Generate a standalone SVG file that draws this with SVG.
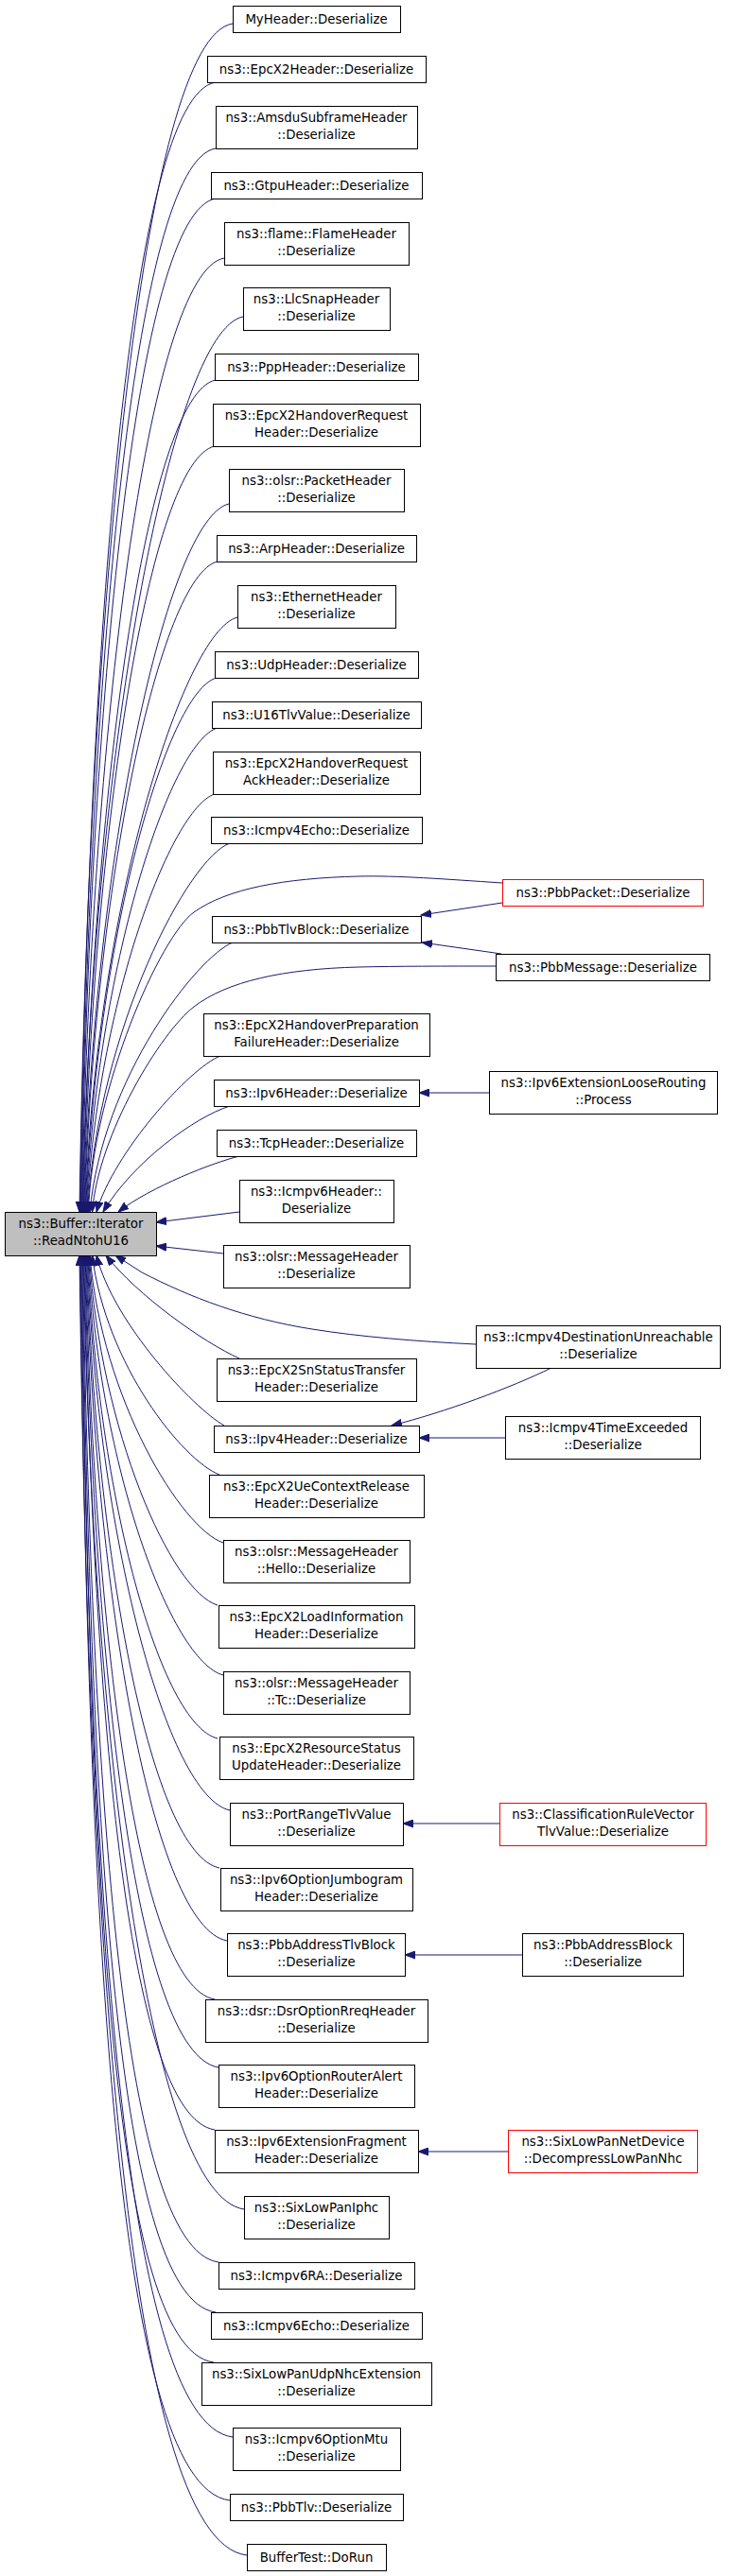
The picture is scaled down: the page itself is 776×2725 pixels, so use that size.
<svg xmlns="http://www.w3.org/2000/svg" width="776" height="2725" viewBox="0 0 776 2725">
<style>
.n rect{fill:#ffffff;stroke:#000000;stroke-width:1}
.n.red rect{stroke:#ff0000}
.n.main rect{fill:#bfbfbf}
.n text{font-family:"DejaVu Sans","Liberation Sans",sans-serif;font-size:13.33px;text-anchor:middle;fill:#000000}
.e path{fill:none;stroke:#191970;stroke-width:1;marker-end:url(#ah)}
</style>
<defs>
<marker id="ah" markerWidth="12" markerHeight="9" refX="11" refY="4.5" orient="auto" markerUnits="userSpaceOnUse">
<path d="M0,0.5 L11,4.5 L0,8.5 z" fill="#191970" stroke="#191970" stroke-width="1"/>
</marker>
</defs>
<rect x="0" y="0" width="776" height="2725" fill="#ffffff"/>
<g id="edges" class="e">
<path d="M246,25 C150.6,40 93.2,653.5 84,1282"/>
<path d="M228,87 C136.3,102 93.9,684.5 84.6,1282"/>
<path d="M228,157 C140.5,172 94.5,719.5 85.2,1282"/>
<path d="M228,210 C143.7,225 95.2,746 85.8,1282"/>
<path d="M237,273 C156.5,288 95.9,777.5 86.4,1282"/>
<path d="M257,335 C180.2,350 96.6,808.5 87,1282"/>
<path d="M228,402 C155.2,417 97.3,842 87.6,1282"/>
<path d="M227,472 C158.4,487 98.1,877 88.2,1282"/>
<path d="M242,533 C177.1,548 98.8,907.5 88.8,1282"/>
<path d="M230,594 C168.7,609 99.6,938 89.4,1282"/>
<path d="M251,653 C193.3,668 100.4,967.5 90,1282"/>
<path d="M229,717 C175.1,732 101.3,999.5 90.6,1282"/>
<path d="M230,770 C179.3,785 102.1,1026 91.2,1282"/>
<path d="M227,840 C180.5,855 103.2,1061 91.8,1282"/>
<path d="M243,892 C199.6,907 104.3,1087 92.4,1282"/>
<path d="M531,934 C470,930 420,926 379,927 C300,929 240,940 205,965 C170,990 98,1150 93.5,1282"/>
<path d="M246,997 C208.9,1012 108.3,1139.5 95,1282"/>
<path d="M524,1022 C470,1022 420,1022 379,1023 C300,1025 240,1038 205,1065 C170,1092 104,1200 97.5,1282"/>
<path d="M233,1117 C200,1130 120,1220 102,1282"/>
<path d="M243,1170 C205,1182 140,1230 109,1282"/>
<path d="M253,1223 C225,1230 160,1255 125,1282"/>
<path d="M253,1282 L165,1293"/>
<path d="M236,1326 L165,1318"/>
<path d="M503,1422 C440,1419 380,1414 330,1406 C260,1395 200,1372 150,1346 L122,1328"/>
<path d="M253,1437 C215,1420 145,1370 112,1328"/>
<path d="M237,1508 C205,1490 120,1400 102,1328"/>
<path d="M232,1560 C193.4,1545 112,1444 97.5,1328"/>
<path d="M236,1632 C191.7,1617 107.9,1480 95,1328"/>
<path d="M230,1698 C180.4,1683 106.4,1513 94.3,1328"/>
<path d="M236,1772 C180.5,1757 105,1550 93.6,1328"/>
<path d="M230,1839 C169.1,1824 103.8,1583.5 92.9,1328"/>
<path d="M243,1915 C176,1900 102.8,1621.5 92.2,1328"/>
<path d="M232,1976 C160.2,1961 101.8,1652 91.5,1328"/>
<path d="M240,2053 C162,2038 100.9,1690.5 90.8,1328"/>
<path d="M227,2115 C144,2100 100,1721.5 90.1,1328"/>
<path d="M231,2187 C142.3,2172 99.2,1757.5 89.4,1328"/>
<path d="M227,2253 C133,2238 98.3,1790.5 88.7,1328"/>
<path d="M258,2337 C157.3,2322 97.5,1832.5 88,1328"/>
<path d="M231,2393 C125.8,2378 96.7,1860.5 87.3,1328"/>
<path d="M228,2446 C118.6,2431 95.9,1887 86.6,1328"/>
<path d="M226,2499 C112.3,2484 95.2,1913.5 85.9,1328"/>
<path d="M246,2578 C126,2563 94.4,1953 85.2,1328"/>
<path d="M243,2645 C117.6,2630 93.6,1986.5 84.5,1328"/>
<path d="M261,2703 C131,2688 93.1,2015.5 84,1328"/>
<path d="M531,955 L445,968"/>
<path d="M530,1009 L446,997"/>
<path d="M517,1156 L443,1156"/>
<path d="M583,1447 C540,1468 470,1494 414,1508"/>
<path d="M534,1521 L443,1521"/>
<path d="M528,1929 L426,1929"/>
<path d="M552,2068 L428,2068"/>
<path d="M537,2276 L442,2276"/>
</g>
<g id="main" class="n main"><rect x="5.5" y="1282.5" width="160" height="46"/><text x="85.5" y="1299">ns3::Buffer::Iterator</text><text x="85.5" y="1317">::ReadNtohU16</text></g>
<g id="n1" class="n"><rect x="246.5" y="6.5" width="177" height="28"/><text x="334.5" y="25">MyHeader::Deserialize</text></g>
<g id="n2" class="n"><rect x="219.5" y="59.5" width="231" height="28"/><text x="334.5" y="78">ns3::EpcX2Header::Deserialize</text></g>
<g id="n3" class="n"><rect x="228.5" y="112.5" width="213" height="45"/><text x="334.5" y="129">ns3::AmsduSubframeHeader</text><text x="334.5" y="147">::Deserialize</text></g>
<g id="n4" class="n"><rect x="223.5" y="182.5" width="223" height="28"/><text x="334.5" y="201">ns3::GtpuHeader::Deserialize</text></g>
<g id="n5" class="n"><rect x="237.5" y="235.5" width="195" height="45"/><text x="334.5" y="252">ns3::flame::FlameHeader</text><text x="334.5" y="270">::Deserialize</text></g>
<g id="n6" class="n"><rect x="257.5" y="304.5" width="155" height="45"/><text x="334.5" y="321">ns3::LlcSnapHeader</text><text x="334.5" y="339">::Deserialize</text></g>
<g id="n7" class="n"><rect x="227.5" y="374.5" width="215" height="28"/><text x="334.5" y="393">ns3::PppHeader::Deserialize</text></g>
<g id="n8" class="n"><rect x="225.5" y="427.5" width="219" height="45"/><text x="334.5" y="444">ns3::EpcX2HandoverRequest</text><text x="334.5" y="462">Header::Deserialize</text></g>
<g id="n9" class="n"><rect x="242.5" y="496.5" width="185" height="45"/><text x="334.5" y="513">ns3::olsr::PacketHeader</text><text x="334.5" y="531">::Deserialize</text></g>
<g id="n10" class="n"><rect x="229.5" y="566.5" width="211" height="28"/><text x="334.5" y="585">ns3::ArpHeader::Deserialize</text></g>
<g id="n11" class="n"><rect x="251.5" y="619.5" width="167" height="45"/><text x="334.5" y="636">ns3::EthernetHeader</text><text x="334.5" y="654">::Deserialize</text></g>
<g id="n12" class="n"><rect x="227.5" y="689.5" width="215" height="28"/><text x="334.5" y="708">ns3::UdpHeader::Deserialize</text></g>
<g id="n13" class="n"><rect x="224.5" y="742.5" width="221" height="28"/><text x="334.5" y="761">ns3::U16TlvValue::Deserialize</text></g>
<g id="n14" class="n"><rect x="225.5" y="795.5" width="219" height="45"/><text x="334.5" y="812">ns3::EpcX2HandoverRequest</text><text x="334.5" y="830">AckHeader::Deserialize</text></g>
<g id="n15" class="n"><rect x="223.5" y="864.5" width="223" height="28"/><text x="334.5" y="883">ns3::Icmpv4Echo::Deserialize</text></g>
<g id="n16" class="n"><rect x="224.5" y="969.5" width="221" height="28"/><text x="334.5" y="988">ns3::PbbTlvBlock::Deserialize</text></g>
<g id="n17" class="n"><rect x="215.5" y="1072.5" width="239" height="45"/><text x="334.5" y="1089">ns3::EpcX2HandoverPreparation</text><text x="334.5" y="1107">FailureHeader::Deserialize</text></g>
<g id="n18" class="n"><rect x="226.5" y="1142.5" width="217" height="28"/><text x="334.5" y="1161">ns3::Ipv6Header::Deserialize</text></g>
<g id="n19" class="n"><rect x="229.5" y="1195.5" width="211" height="28"/><text x="334.5" y="1214">ns3::TcpHeader::Deserialize</text></g>
<g id="n20" class="n"><rect x="253.5" y="1248.5" width="163" height="45"/><text x="334.5" y="1265">ns3::Icmpv6Header::</text><text x="334.5" y="1283">Deserialize</text></g>
<g id="n21" class="n"><rect x="236.5" y="1317.5" width="197" height="45"/><text x="334.5" y="1334">ns3::olsr::MessageHeader</text><text x="334.5" y="1352">::Deserialize</text></g>
<g id="n22" class="n"><rect x="229.5" y="1437.5" width="211" height="45"/><text x="334.5" y="1454">ns3::EpcX2SnStatusTransfer</text><text x="334.5" y="1472">Header::Deserialize</text></g>
<g id="n23" class="n"><rect x="226.5" y="1508.5" width="217" height="28"/><text x="334.5" y="1527">ns3::Ipv4Header::Deserialize</text></g>
<g id="n24" class="n"><rect x="221.5" y="1560.5" width="227" height="45"/><text x="334.5" y="1577">ns3::EpcX2UeContextRelease</text><text x="334.5" y="1595">Header::Deserialize</text></g>
<g id="n25" class="n"><rect x="236.5" y="1629.5" width="197" height="45"/><text x="334.5" y="1646">ns3::olsr::MessageHeader</text><text x="334.5" y="1664">::Hello::Deserialize</text></g>
<g id="n26" class="n"><rect x="231.5" y="1698.5" width="207" height="45"/><text x="334.5" y="1715">ns3::EpcX2LoadInformation</text><text x="334.5" y="1733">Header::Deserialize</text></g>
<g id="n27" class="n"><rect x="236.5" y="1768.5" width="197" height="45"/><text x="334.5" y="1785">ns3::olsr::MessageHeader</text><text x="334.5" y="1803">::Tc::Deserialize</text></g>
<g id="n28" class="n"><rect x="232.5" y="1837.5" width="205" height="45"/><text x="334.5" y="1854">ns3::EpcX2ResourceStatus</text><text x="334.5" y="1872">UpdateHeader::Deserialize</text></g>
<g id="n29" class="n"><rect x="243.5" y="1907.5" width="183" height="45"/><text x="334.5" y="1924">ns3::PortRangeTlvValue</text><text x="334.5" y="1942">::Deserialize</text></g>
<g id="n30" class="n"><rect x="233.5" y="1976.5" width="203" height="45"/><text x="334.5" y="1993">ns3::Ipv6OptionJumbogram</text><text x="334.5" y="2011">Header::Deserialize</text></g>
<g id="n31" class="n"><rect x="240.5" y="2045.5" width="188" height="45"/><text x="334.5" y="2062">ns3::PbbAddressTlvBlock</text><text x="334.5" y="2080">::Deserialize</text></g>
<g id="n32" class="n"><rect x="217.5" y="2115.5" width="235" height="45"/><text x="334.5" y="2132">ns3::dsr::DsrOptionRreqHeader</text><text x="334.5" y="2150">::Deserialize</text></g>
<g id="n33" class="n"><rect x="231.5" y="2184.5" width="207" height="45"/><text x="334.5" y="2201">ns3::Ipv6OptionRouterAlert</text><text x="334.5" y="2219">Header::Deserialize</text></g>
<g id="n34" class="n"><rect x="227.5" y="2253.5" width="215" height="45"/><text x="334.5" y="2270">ns3::Ipv6ExtensionFragment</text><text x="334.5" y="2288">Header::Deserialize</text></g>
<g id="n35" class="n"><rect x="258.5" y="2323.5" width="153" height="45"/><text x="334.5" y="2340">ns3::SixLowPanIphc</text><text x="334.5" y="2358">::Deserialize</text></g>
<g id="n36" class="n"><rect x="231.5" y="2393.5" width="207" height="28"/><text x="334.5" y="2412">ns3::Icmpv6RA::Deserialize</text></g>
<g id="n37" class="n"><rect x="223.5" y="2446.5" width="223" height="28"/><text x="334.5" y="2465">ns3::Icmpv6Echo::Deserialize</text></g>
<g id="n38" class="n"><rect x="213.5" y="2499.5" width="243" height="45"/><text x="334.5" y="2516">ns3::SixLowPanUdpNhcExtension</text><text x="334.5" y="2534">::Deserialize</text></g>
<g id="n39" class="n"><rect x="246.5" y="2568.5" width="177" height="45"/><text x="334.5" y="2585">ns3::Icmpv6OptionMtu</text><text x="334.5" y="2603">::Deserialize</text></g>
<g id="n40" class="n"><rect x="243.5" y="2638.5" width="183" height="28"/><text x="334.5" y="2657">ns3::PbbTlv::Deserialize</text></g>
<g id="n41" class="n"><rect x="261.5" y="2691.5" width="147" height="28"/><text x="334.5" y="2710">BufferTest::DoRun</text></g>
<g id="r1" class="n red"><rect x="531.5" y="930.5" width="212" height="28"/><text x="637.5" y="949">ns3::PbbPacket::Deserialize</text></g>
<g id="r2" class="n"><rect x="524.5" y="1009.5" width="226" height="28"/><text x="637.5" y="1028">ns3::PbbMessage::Deserialize</text></g>
<g id="r3" class="n"><rect x="517.5" y="1133.5" width="241" height="45"/><text x="638" y="1150">ns3::Ipv6ExtensionLooseRouting</text><text x="638" y="1168">::Process</text></g>
<g id="r4" class="n"><rect x="503.5" y="1402.5" width="258" height="45"/><text x="632.5" y="1419">ns3::Icmpv4DestinationUnreachable</text><text x="632.5" y="1437">::Deserialize</text></g>
<g id="r5" class="n"><rect x="534.5" y="1498.5" width="206" height="45"/><text x="637.5" y="1515">ns3::Icmpv4TimeExceeded</text><text x="637.5" y="1533">::Deserialize</text></g>
<g id="r6" class="n red"><rect x="528.5" y="1907.5" width="218" height="45"/><text x="637.5" y="1924">ns3::ClassificationRuleVector</text><text x="637.5" y="1942">TlvValue::Deserialize</text></g>
<g id="r7" class="n"><rect x="552.5" y="2045.5" width="170" height="45"/><text x="637.5" y="2062">ns3::PbbAddressBlock</text><text x="637.5" y="2080">::Deserialize</text></g>
<g id="r8" class="n red"><rect x="537.5" y="2253.5" width="200" height="45"/><text x="637.5" y="2270">ns3::SixLowPanNetDevice</text><text x="637.5" y="2288">::DecompressLowPanNhc</text></g>
</svg>
